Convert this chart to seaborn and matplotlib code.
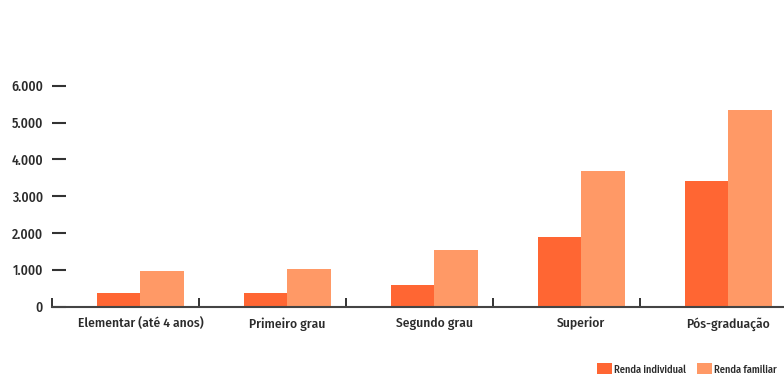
import matplotlib
matplotlib.use("Agg")
import matplotlib.pyplot as plt
import seaborn as sns
import pandas as pd

categorias = ["Elementar (até 4 anos)", "Primeiro grau", "Segundo grau", "Superior", "Pós-graduação"]
renda_individual = [370, 370, 585, 1905, 3420]
renda_familiar = [980, 1030, 1545, 3675, 5345]
series = ["Renda individual", "Renda familiar"]
y_ticks = [0, 1000, 2000, 3000, 4000, 5000, 6000]
y_labels = ["0", "1.000", "2.000", "3.000", "4.000", "5.000", "6.000"]

df = pd.DataFrame({
    "categoria": categorias * 2,
    "serie": [series[0]] * len(categorias) + [series[1]] * len(categorias),
    "valor": renda_individual + renda_familiar,
})

sns.set_theme(style="white")
plt.rcParams["font.family"] = ["Fira Sans Condensed", "Fira Sans Extra Condensed", "DejaVu Sans"]
plt.rcParams["font.weight"] = 500
text_color = "#2b2b2b"

fig = plt.figure(figsize=(7.84, 3.74), dpi=100)
ax = fig.add_axes([51.7 / 784, (374 - 306.7) / 374, 1 - 51.7 / 784, (306.7 - 85.7) / 374])

sns.barplot(data=df, x="categoria", y="valor", hue="serie", order=categorias,
            hue_order=series, palette=["#FF6633", "#FF9966"], width=0.59,
            saturation=1, ax=ax, legend=True)
for p in ax.patches:
    p.set_edgecolor("none")

ax.set_xlim(-0.603, 4.38)
ax.set_ylim(0, 6000)
ax.set_xlabel("")
ax.set_ylabel("")

for s in ["top", "right", "left"]:
    ax.spines[s].set_visible(False)
ax.spines["bottom"].set_color("#444444")
ax.spines["bottom"].set_linewidth(1.5)

ax.set_yticks(y_ticks)
ax.set_yticklabels(y_labels)
ax.tick_params(axis="y", direction="in", length=10, width=1.5, color="#333333",
               pad=6.3, labelsize=9.8, labelcolor=text_color, left=True)

ax.set_xticks(range(len(categorias)))
ax.set_xticklabels(categorias)
ax.tick_params(axis="x", which="major", length=0, pad=7.5, labelsize=9.7, labelcolor=text_color)
ax.set_xticks([i - 0.603 for i in range(len(categorias))], minor=True)
ax.tick_params(axis="x", which="minor", direction="in", length=6.5, width=1.4,
               color="#333333", bottom=True)

ax.get_legend().remove()
handles, labels = ax.get_legend_handles_labels()
fig.legend(handles, labels, loc="upper left",
           bbox_to_anchor=(594 / 784, 1 - 360 / 374), ncol=2, frameon=False,
           fontsize=7.5, handlelength=1.4, handleheight=1.5, handletextpad=0.2,
           columnspacing=1.1, borderaxespad=0, borderpad=0.3,
           labelcolor=text_color)

fig.savefig("out.png", dpi=100)
